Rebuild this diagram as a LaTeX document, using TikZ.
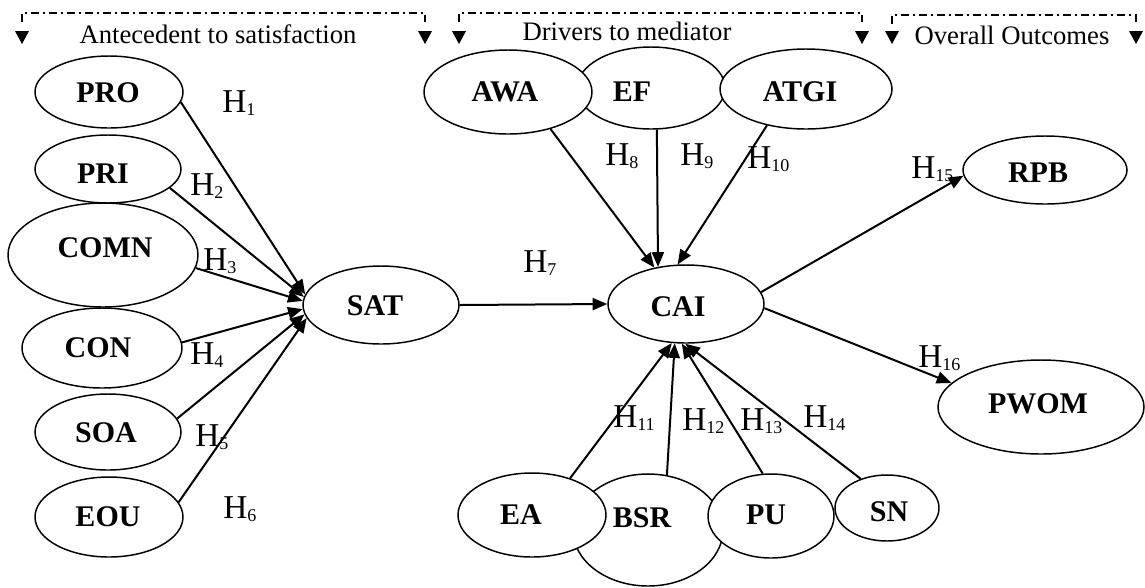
\documentclass[tikz,border=0pt]{standalone}
\usepackage{fontspec}
\setmainfont{Liberation Serif}
\usetikzlibrary{shapes.geometric, arrows.meta}
% hypothesis label: H with a lowered small index
\newcommand\hsub[1]{H\raisebox{-2.8pt}{\fontsize{13.5}{13.5}\selectfont #1}}

\begin{document}
\begin{tikzpicture}[x=0.75pt, y=-0.75pt,
  oval/.style 2 args={ellipse, draw, fill=white, line width=1.1pt, inner sep=0pt,
    minimum width=#1*0.75pt, minimum height=#2*0.75pt},
  lbl/.style={inner sep=0pt, font=\bfseries\fontsize{22.5}{22.5}\selectfont},
  hyp/.style={inner sep=0pt, anchor=base west, font=\fontsize{25}{25}\selectfont},
  link/.style={line width=1.5pt, -{Triangle[length=11pt, width=9pt]}},
  head/.style={inner sep=0pt, anchor=base, font=\fontsize{20}{20}\selectfont},
  bracket/.style={line width=1.2pt, dash pattern=on 6pt off 3pt on 1.5pt off 3pt},
  pics/drop/.style={code={\fill (-7,-6.5) -- (7,-6.5) -- (0,6.5) -- cycle;}}
]
\useasboundingbox (0,0) rectangle (1145,587);

% ---- group brackets and headings
\draw[bracket] (22,22) -- (22,13) -- (425,13) -- (425,22);
\draw[bracket] (459,22) -- (459,13) -- (862,13) -- (862,22);
\draw[bracket] (892,24) -- (892,15) -- (1136,15) -- (1136,24);
\pic at (22,37.5) {drop};    \pic at (425,37.5) {drop};
\pic at (459,37.5) {drop};   \pic at (862,37.5) {drop};
\pic at (892,37.5) {drop};   \pic at (1136,37.5) {drop};
\node[head] (h-ante) at (218,43) {Antecedent to satisfaction};
\node[head] (h-driv) at (627,40) {Drivers to mediator};
\node[head] (h-out)  at (1012,44) {Overall Outcomes};

% ---- antecedents of satisfaction
\node[oval={148}{72}]  (pro)  at (109,92)  {};
\node[oval={146}{68}]  (pri)  at (108,169) {};
\node[oval={190}{104}] (comn) at (103,255) {};
\node[oval={160}{80}]  (con)  at (102,348) {};
\node[oval={146}{76}]  (soa)  at (108,432) {};
\node[oval={148}{80}]  (eou)  at (109,517) {};
\node[oval={156}{78}]  (sat)  at (381,305) {};

% ---- drivers above the mediator
\node[oval={148}{82}]  (ef)   at (651,88)  {};
\node[oval={168}{84}]  (awa)  at (508,92)  {};
\node[oval={172}{80}]  (atgi) at (806,89)  {};
\node[oval={156}{78}]  (cai)  at (686,304) {};

% ---- drivers below the mediator
\node[oval={150}{112}] (bsr)  at (648,530) {};
\node[oval={148}{84}]  (ea)   at (532,515) {};
\node[oval={126}{84}]  (pu)   at (771,516) {};
\node[oval={104}{66}]  (sn)   at (887,508) {};

% ---- outcomes
\node[oval={164}{68}]  (rpb)  at (1045,170) {};
\node[oval={206}{94}]  (pwom) at (1041,407) {};

% ---- construct names
\node[lbl] (pro-t)  at (108,93)  {PRO};
\node[lbl] (pri-t)  at (103,174) {PRI};
\node[lbl] (comn-t) at (105,248) {COMN};
\node[lbl] (con-t)  at (98,348)  {CON};
\node[lbl] (soa-t)  at (106,433) {SOA};
\node[lbl] (eou-t)  at (108,517) {EOU};
\node[lbl] (sat-t)  at (375,306) {SAT};
\node[lbl] (awa-t)  at (505,92)  {AWA};
\node[lbl] (ef-t)   at (632,92)  {EF};
\node[lbl] (atgi-t) at (800,92)  {ATGI};
\node[lbl] (cai-t)  at (678,307) {CAI};
\node[lbl] (rpb-t)  at (1038,173) {RPB};
\node[lbl] (pwom-t) at (1038,404) {PWOM};
\node[lbl] (ea-t)   at (521,515) {EA};
\node[lbl] (bsr-t)  at (642,518) {BSR};
\node[lbl] (pu-t)   at (766,515) {PU};
\node[lbl] (sn-t)   at (889,512) {SN};

% ---- paths
\draw[link] (pro.-8)   -- (sat.172);
\draw[link] (pri.-17)  -- (sat.174);
\draw[link] (comn.-8)  -- (sat.177);
\draw[link] (con.4)    -- (sat.183);
\draw[link] (soa.11)   -- (sat.187);
\draw[link] (eou.12)   -- (sat.190);
\draw[link] (sat.east) -- (cai.west);
\draw[link] (awa.-41)  -- (cai.131);
\draw[link] (ef.-82)   -- (cai.127);
\draw[link] (atgi.-137) -- (cai.102);
\draw[link] (ea.44)    -- (cai.-110);
\draw[link] (bsr.71)   -- (cai.-106);
\draw[link] (pu.101)   -- (cai.-96);
\draw[link] (sn.132)   -- (cai.-91);
\draw[link] (cai.9)    -- (rpb.184);
\draw[link] (cai.-3)   -- (pwom.165);

% ---- hypothesis labels
\node[hyp] (hy1)  at (222,112) {\hsub{1}};
\node[hyp] (hy2)  at (190,195) {\hsub{2}};
\node[hyp] (hy3)  at (203,270) {\hsub{3}};
\node[hyp] (hy4)  at (190,364) {\hsub{4}};
\node[hyp] (hy5)  at (195,446) {\hsub{5}};
\node[hyp] (hy6)  at (223,518) {\hsub{6}};
\node[hyp] (hy7)  at (523,272) {\hsub{7}};
\node[hyp] (hy8)  at (605,165) {\hsub{8}};
\node[hyp] (hy9)  at (680,165) {\hsub{9}};
\node[hyp] (hy10) at (747,168) {\hsub{10}};
\node[hyp] (hy11) at (613,427) {\hsub{11}};
\node[hyp] (hy12) at (682,430) {\hsub{12}};
\node[hyp] (hy13) at (740,430) {\hsub{13}};
\node[hyp] (hy14) at (803,427) {\hsub{14}};
\node[hyp] (hy15) at (911,178) {\hsub{15}};
\node[hyp] (hy16) at (918,367) {\hsub{16}};
\end{tikzpicture}
\end{document}
